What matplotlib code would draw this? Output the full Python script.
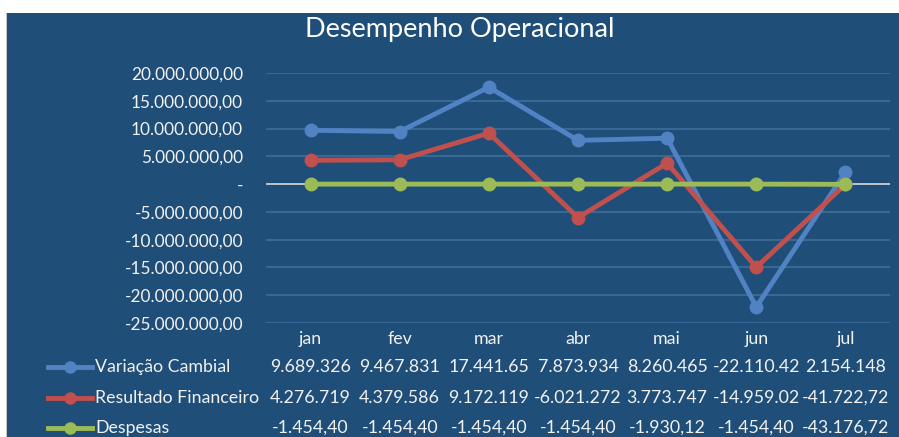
import matplotlib
matplotlib.use("Agg")
import matplotlib.pyplot as plt
import matplotlib.transforms as mtransforms
from matplotlib.patches import Rectangle
from matplotlib.lines import Line2D

plt.rcParams['font.family'] = ['Lato', 'DejaVu Sans']

# ---------------- data ----------------
months = ['jan', 'fev', 'mar', 'abr', 'mai', 'jun', 'jul']
series_names = ['Variação Cambial', 'Resultado Financeiro', 'Despesas']

variacao = [9689326, 9467831, 17441650, 7873934, 8260465, -22110420, 2154148]
resultado = [4276719, 4379586, 9172119, -6021272, 3773747, -14959020, -41722.72]
despesas = [-1454.40, -1454.40, -1454.40, -1454.40, -1930.12, -1454.40, -43176.72]

# data table text as shown (Excel truncates some cells)
variacao_txt = ['9.689.326', '9.467.831', '17.441.65', '7.873.934', '8.260.465', '-22.110.42', '2.154.148']
resultado_txt = ['4.276.719', '4.379.586', '9.172.119', '-6.021.272', '3.773.747', '-14.959.02', '-41.722,72']
despesas_txt = ['-1.454,40', '-1.454,40', '-1.454,40', '-1.454,40', '-1.930,12', '-1.454,40', '-43.176,72']

yticks = [20e6, 15e6, 10e6, 5e6, 0, -5e6, -10e6, -15e6, -20e6, -25e6]

# ---------------- style ----------------
bg = '#1F4E79'
grid_c = '#3A6894'
txt_c = '#F2F2F2'
colors = ['#5183C4', '#C0504D', '#9BBB59']
fs = 12.8

W, H = 899, 437
fig = plt.figure(figsize=(W / 100, H / 100), dpi=100, facecolor='white')

# chart area background
fig.patches.append(Rectangle((7 / W, 0), 1 - 7 / W, 1 - 13 / H, transform=fig.transFigure,
                             facecolor=bg, edgecolor='none', zorder=-10))
fig.patches.append(Rectangle((5.5 / W, 0), 1.5 / W, 1 - 13 / H, transform=fig.transFigure,
                             facecolor='#C8C8C8', edgecolor='none', zorder=-10))

ax = fig.add_axes([266 / W, (H - 323) / H, (890 - 266) / W, (323 - 73) / H])
ax.set_facecolor(bg)
ax.patch.set_alpha(0)
for s in ax.spines.values():
    s.set_visible(False)

ax.set_xlim(-0.5, len(months) - 0.5)
ax.set_ylim(-25e6, 20e6)

for y in yticks:
    if y == 0:
        ax.axhline(y, color='#D9D9D9', lw=1.2, zorder=1)
    else:
        ax.axhline(y, color=grid_c, lw=1.5, zorder=1)

x = list(range(len(months)))
for vals, c in zip([variacao, resultado, despesas], colors):
    ax.plot(x, vals, color=c, lw=3.5, marker='o', markersize=9, zorder=3,
            solid_capstyle='round', clip_on=False)

def fmt(v):
    if v == 0:
        return '-'
    s = f"{abs(v):,.2f}".replace(',', 'X').replace('.', ',').replace('X', '.')
    return ('-' if v < 0 else '') + s

ax.set_yticks(yticks)
ax.set_yticklabels([fmt(v) for v in yticks])
ax.tick_params(axis='y', length=0, pad=16.5, labelsize=12.4, labelcolor=txt_c)
ax.set_xticks(x)
ax.set_xticklabels(months)
ax.tick_params(axis='x', length=0, pad=6, labelsize=fs, labelcolor=txt_c)

# title
fig.text(460 / W, 1 - 30 / H, 'Desempenho Operacional', ha='center', va='center',
         fontsize=19.5, color='white')

# data table
trans = mtransforms.blended_transform_factory(ax.transData, fig.transFigure)
row_y = [367, 398, 428]
for ry, texts, name, c in zip(row_y, [variacao_txt, resultado_txt, despesas_txt],
                              series_names, colors):
    yf = 1 - ry / H
    for xi, t in zip(x, texts):
        ax.text(xi, yf, t, transform=trans, ha='center', va='center',
                fontsize=fs, color=txt_c, clip_on=False)
    fig.add_artist(Line2D([48 / W, 92 / W], [yf, yf], color=c, lw=3.5,
                          transform=fig.transFigure))
    fig.add_artist(Line2D([70 / W], [yf], color=c, marker='o', markersize=8,
                          transform=fig.transFigure))
    fig.text(95 / W, yf, name, ha='left', va='center', fontsize=fs, color=txt_c)

fig.savefig('out.png', dpi=100, facecolor='white')
